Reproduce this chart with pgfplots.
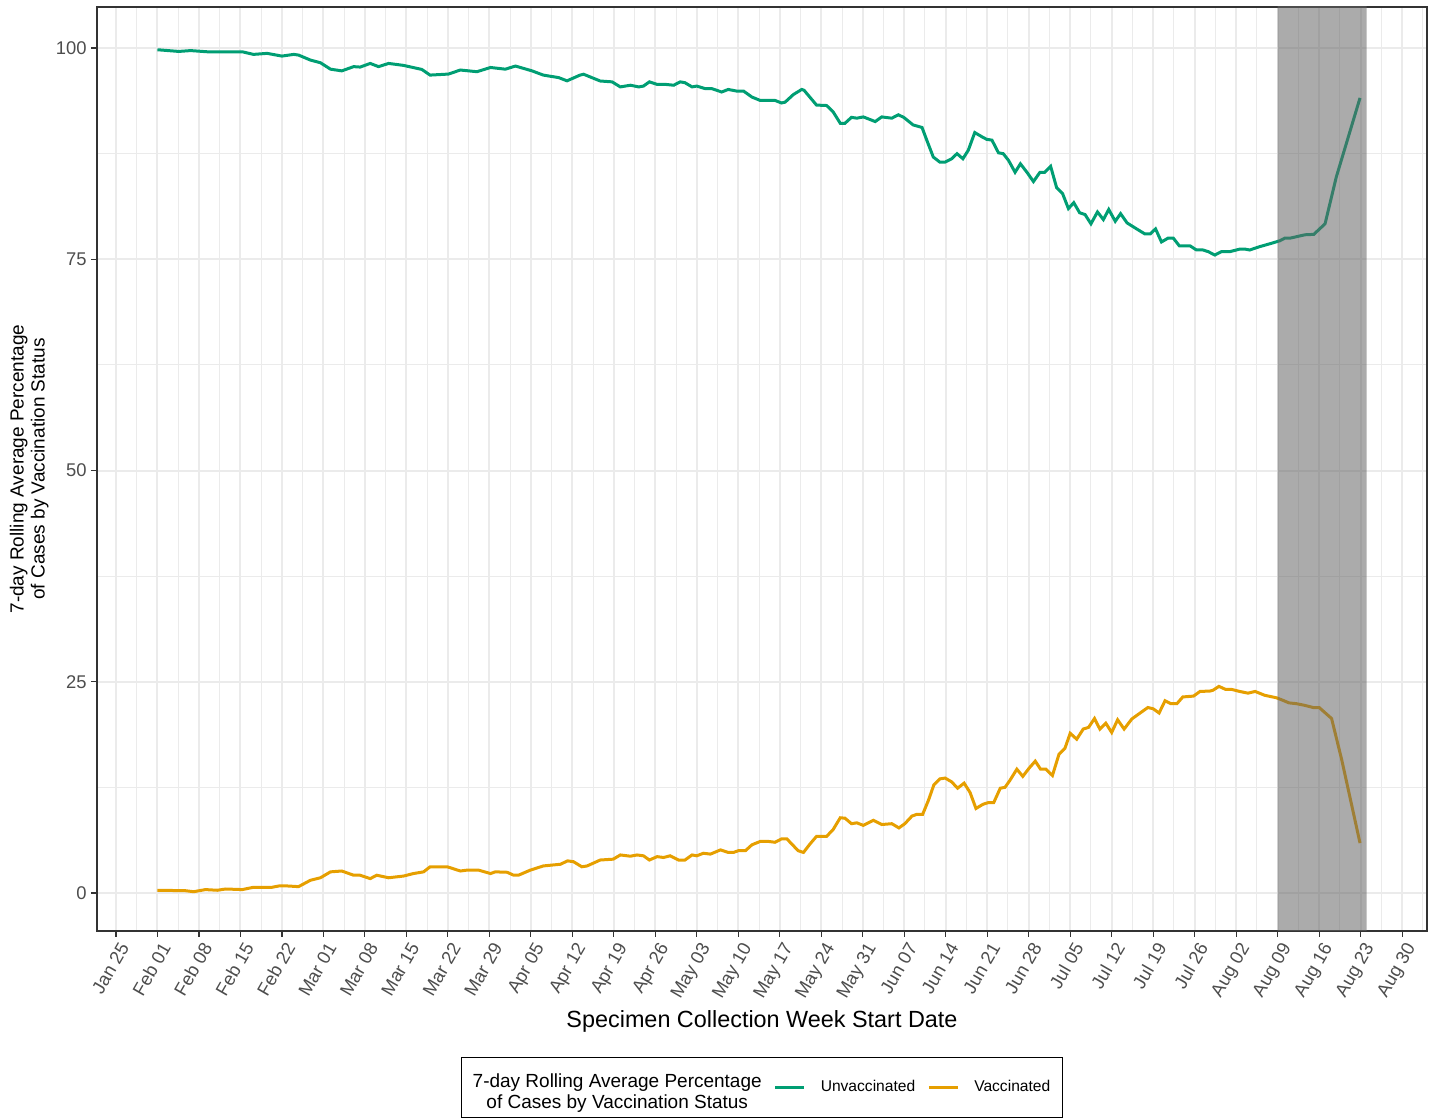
\documentclass[border=0pt]{standalone}
\usepackage{pgfplots}
\pgfplotsset{compat=1.18}
\usepackage{fontspec}
\setmainfont{Liberation Sans}
\definecolor{unvac}{HTML}{009E73}
\definecolor{vac}{HTML}{E69F00}
\definecolor{gridc}{HTML}{EBEBEB}
\definecolor{tickc}{HTML}{4D4D4D}
\definecolor{framec}{HTML}{333333}
\definecolor{shadec}{HTML}{646464}
\begin{document}
\begin{tikzpicture}
\useasboundingbox (0,0) rectangle (718.5pt,559.5pt);
\begin{axis}[
  at={(48.5pt,94pt)}, anchor=south west,
  scale only axis, width=665pt, height=462pt,
  xmin=-10.2, xmax=214.2, ymin=-4.5, ymax=104.86,
  xtick={-7,0,...,210},
  xticklabels={Jan 25,Feb 01,Feb 08,Feb 15,Feb 22,Mar 01,Mar 08,Mar 15,Mar 22,Mar 29,Apr 05,Apr 12,Apr 19,Apr 26,May 03,May 10,May 17,May 24,May 31,Jun 07,Jun 14,Jun 21,Jun 28,Jul 05,Jul 12,Jul 19,Jul 26,Aug 02,Aug 09,Aug 16,Aug 23,Aug 30},
  minor xtick={-3.5,3.5,...,213.5},
  ytick={0,25,50,75,100},
  minor ytick={12.5,37.5,62.5,87.5},
  grid=both,
  major grid style={gridc, line width=1pt},
  minor grid style={gridc, line width=0.5pt},
  minor tick length=0pt,
  major tick length=3pt,
  tick align=outside,
  tick pos=left,
  tick style={framec, line width=0.6pt},
  axis line style={framec, line width=0.6pt},
  /pgf/number format/assume math mode=true,
  yticklabel style={font=\fontsize{9.2}{10}\selectfont, text=tickc, inner sep=2pt},
  xticklabel style={font=\fontsize{9.2}{10}\selectfont, text=tickc, rotate=60, anchor=north east, inner sep=1pt, yshift=-1pt},
  xlabel={Specimen Collection Week Start Date},
  xlabel style={font=\fontsize{11.7}{13}\selectfont, at={(axis description cs:0.5,-0.0974)}, anchor=center},
  ylabel={\begin{tabular}{@{}c@{}}7-day Rolling Average Percentage\\of Cases by Vaccination Status\end{tabular}},
  ylabel style={font=\fontsize{9.5}{10.5}\selectfont, at={(axis description cs:-0.0504,0.5)}, anchor=center},
  legend columns=3,
  legend style={at={(axis description cs:0.5,-0.1694)}, anchor=center, draw=black, line width=0.7pt,
    font=\fontsize{7.8}{9}\selectfont, inner xsep=6pt, inner ysep=8pt,
    nodes={inner sep=0pt},
    /tikz/every even column/.append style={column sep=6pt},
    /tikz/every odd column/.append style={column sep=7.5pt}},
  legend image code/.code={\draw[#1, line width=1.5pt] (0pt,0pt) -- (14.5pt,0pt);},
]
\addlegendimage{empty legend}
\addlegendentry{\hspace*{-8pt}\fontsize{9.5}{10.5}\selectfont\begin{tabular}{@{}c@{}}7-day Rolling Average Percentage\\of Cases by Vaccination Status\end{tabular}}

\addplot[unvac, line width=1.5pt] coordinates {
(0,99.8) (3.6,99.6) (5.6,99.7) (8.4,99.56) (14.3,99.56) (16.2,99.25) (18.5,99.37) (21,99.05) (23,99.25) (23.8,99.17)
(25.8,98.58) (27.5,98.26) (29.2,97.5) (31.1,97.3) (33.1,97.8) (34.2,97.75) (35.9,98.18) (37.3,97.8) (39,98.18) (41.5,97.95)
(44.6,97.47) (46,96.8) (49.1,96.92) (51.1,97.4) (53.9,97.2) (56.2,97.7) (58.7,97.5) (60.4,97.87) (63.2,97.3) (65.1,96.8)
(67.7,96.5) (69.1,96.12) (71.3,96.8) (71.9,96.9) (74.7,96.1) (76.7,96.0) (78.1,95.4) (79.8,95.6) (81.2,95.4) (82,95.5)
(83,96.0) (84.3,95.7) (85.7,95.7) (87.1,95.6) (88.2,96.0) (89,95.9) (90.2,95.4) (91,95.5) (92.4,95.2) (93.5,95.2)
(95.2,94.8) (96.3,95.1) (97.8,94.9) (98.9,94.9) (100.3,94.2) (101.7,93.8) (104.2,93.8) (105.3,93.5) (105.9,93.6) (107.3,94.5)
(108.7,95.1) (109.1,95.0) (111.2,93.25) (112.9,93.2) (114,92.45) (115.2,91.1) (116,91.1) (117.1,91.8) (118,91.7) (119.1,91.85)
(121.1,91.3) (122.2,91.85) (123.9,91.7) (125,92.1) (125.9,91.8) (127.5,90.9) (129,90.6) (129.8,89.1) (130.9,87.1) (132,86.5)
(132.9,86.5) (134,86.9) (134.9,87.5) (135.9,86.9) (136.8,87.9) (137.9,90.0) (139.1,89.5) (139.9,89.2) (140.8,89.1) (141.9,87.6)
(142.7,87.5) (143.6,86.7) (144.7,85.3) (145.6,86.3) (146.7,85.3) (147.8,84.2) (148.9,85.3) (149.7,85.3) (150.7,86.0) (151.7,83.5)
(152.7,82.8) (153.7,81.0) (154.6,81.7) (155.6,80.5) (156.5,80.3) (157.5,79.2) (158.6,80.6) (159.6,79.7) (160.5,80.9) (161.6,79.5)
(162.5,80.4) (163.6,79.3) (165.2,78.6) (166.6,78.0) (167.5,78.0) (168.4,78.6) (169.4,77.05) (170.5,77.5) (171.4,77.5) (172.4,76.6)
(174.2,76.6) (175.3,76.1) (176.4,76.1) (177.3,75.9) (178.4,75.5) (179.5,75.9) (180.9,75.9) (182.6,76.2) (183.5,76.2) (184.3,76.1)
(186,76.5) (188,76.9) (189.4,77.2) (190.2,77.5) (191.1,77.5) (193.6,77.9) (195.1,77.95) (197,79.2) (198.9,84.75) (202.9,94.1)
};
\addlegendentry{Unvaccinated}

\addplot[vac, line width=1.5pt] coordinates {
(0,0.32) (4.7,0.27) (6.1,0.15) (8.1,0.4) (10.1,0.32) (11.5,0.47) (14.3,0.4) (16.2,0.67) (19.3,0.67) (20.5,0.83)
(21.9,0.83) (23.8,0.75) (25.8,1.5) (27.5,1.8) (29.2,2.5) (31.1,2.6) (33.1,2.1) (34.2,2.1) (35.9,1.7) (37,2.1)
(39,1.8) (41.5,2.0) (43.2,2.3) (44.9,2.5) (46,3.1) (48.9,3.1) (51.1,2.6) (52.2,2.7) (54.2,2.7) (56.2,2.3)
(57,2.5) (59,2.45) (60.1,2.1) (60.9,2.1) (62.9,2.7) (65.1,3.2) (68,3.4) (69.2,3.8) (70.2,3.7) (71.6,3.1)
(72.5,3.2) (74.7,3.9) (76.9,4.0) (78.1,4.5) (79.8,4.35) (80.9,4.5) (82,4.4) (83,3.9) (84.3,4.3) (85.4,4.2)
(86.5,4.4) (87.9,3.9) (89,3.9) (90.2,4.5) (91,4.4) (92.1,4.7) (93.3,4.6) (95,5.1) (96.3,4.8) (97.2,4.8)
(98,5.0) (99.2,5.0) (100.3,5.7) (101.7,6.1) (103.1,6.1) (104.2,6.0) (105.3,6.4) (106.2,6.4) (108.1,5.0) (109,4.8)
(110.1,5.8) (111.2,6.7) (112.9,6.7) (114,7.5) (115.2,8.9) (116,8.85) (117.1,8.2) (118,8.3) (119.1,8.0) (120.8,8.6)
(122.2,8.1) (123.9,8.2) (125.1,7.7) (126.1,8.2) (127.3,9.1) (128.1,9.3) (129.1,9.3) (130.1,11.0) (131,12.8) (132,13.5)
(132.9,13.6) (134,13.15) (135,12.4) (136.1,13.0) (137.1,11.9) (138.1,10.0) (139.3,10.5) (140.2,10.7) (141.1,10.7) (142.2,12.4)
(143,12.5) (143.8,13.3) (145,14.65) (146,13.8) (147.1,14.8) (148.1,15.6) (149,14.65) (149.9,14.65) (151,13.9) (152.1,16.4)
(153.1,17.1) (154,18.9) (155.1,18.2) (156.2,19.4) (157.1,19.6) (158.1,20.65) (159,19.4) (160,20.1) (161,19.0) (162,20.5)
(163.1,19.4) (164.4,20.6) (165.8,21.3) (167.1,21.95) (168,21.8) (169,21.3) (170,22.75) (171,22.4) (172,22.4) (173,23.2)
(174.8,23.3) (175.9,23.85) (177.6,23.9) (178.1,24.0) (179.1,24.45) (180.2,24.1) (181.2,24.1) (182.6,23.85) (184,23.65) (185.2,23.85)
(186.8,23.4) (188.8,23.1) (189.9,22.8) (190.9,22.5) (192.2,22.4) (193.6,22.2) (195,21.95) (196,21.95) (198.1,20.65) (199.8,15.8)
(202.9,5.9)
};
\addlegendentry{Vaccinated}

\addplot[draw=none, fill=shadec, fill opacity=0.54, forget plot] coordinates {
(189,-10) (189,110) (204,110) (204,-10) (189,-10)};
\end{axis}
\end{tikzpicture}
\end{document}
